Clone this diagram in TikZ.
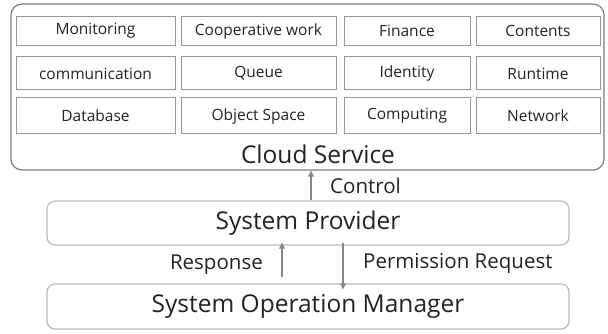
\documentclass[tikz,border=0pt]{standalone}
\usepackage{fontspec}
\setmainfont{Open Sans}
\usetikzlibrary{arrows.meta}
\definecolor{boxgray}{RGB}{150,150,150}
\definecolor{outergray}{RGB}{125,125,125}
\definecolor{lightgray}{RGB}{185,185,185}
\definecolor{arrowgray}{RGB}{135,135,135}
\definecolor{txt}{RGB}{35,35,35}
\tikzset{
  svc/.style={draw=boxgray, line width=1pt, inner sep=0pt, font=\fontsize{15.5}{18}\selectfont, text=txt},
  layer/.style={draw=lightgray, line width=1.2pt, rounded corners=8pt, inner sep=0pt, minimum width=522pt, minimum height=44pt, font=\fontsize{24.5}{28}\selectfont, text=txt},
  flow/.style={draw=arrowgray, line width=1.4pt, -{Triangle[length=6pt,width=5.5pt]}},
  lbl/.style={font=\fontsize{20.5}{24}\selectfont, text=txt, inner sep=0pt}
}
\begin{document}
\begin{tikzpicture}[x=1pt,y=-1pt]
\useasboundingbox (0,0) rectangle (608,334);
\fill[white] (0,0) rectangle (608,334);
% outer cloud box
\node[draw=outergray, line width=1.2pt, rounded corners=11pt, minimum width=593pt, minimum height=166pt, inner sep=0pt] (cloud) at (307.5,87) {};
\node[font=\fontsize{24.5}{28}\selectfont, text=txt, inner sep=0pt] (cloudlbl) at (318,154) {Cloud Service};
% row 1
\node[svc, minimum width=159pt, minimum height=29pt] (mon) at (95.5,31) {Monitoring};
\node[svc, minimum width=155pt, minimum height=29pt] (coop) at (258.5,31) {Cooperative work};
\node[svc, minimum width=126pt, minimum height=29pt] (fin) at (407,31) {Finance};
\node[svc, minimum width=124pt, minimum height=29pt] (cont) at (538,31) {Contents};
% row 2
\node[svc, minimum width=159pt, minimum height=33pt] (comm) at (95.5,73.5) {communication};
\node[svc, minimum width=155pt, minimum height=33pt] (queue) at (258.5,73.5) {Queue};
\node[svc, minimum width=126pt, minimum height=33pt] (ident) at (407,73.5) {Identity};
\node[svc, minimum width=124pt, minimum height=33pt] (runt) at (538,73.5) {Runtime};
% row 3
\node[svc, minimum width=159pt, minimum height=36pt] (db) at (95.5,116) {Database};
\node[svc, minimum width=155pt, minimum height=36pt] (obj) at (258.5,116) {Object Space};
\node[svc, minimum width=126pt, minimum height=36pt] (comp) at (407,116) {Computing};
\node[svc, minimum width=124pt, minimum height=36pt] (net) at (538,116) {Network};
% layers
\node[layer] (sp) at (308,223) {System Provider};
\node[layer, minimum height=45pt] (som) at (308,306.5) {System Operation Manager};
% arrows
\draw[flow] (sp.north -| 311,0) -- (cloud.south -| 311,0);
\node[lbl, anchor=west] (ctrl) at (330,186) {Control};
\draw[flow] (som.north -| 282,0) ++(0,-6) -- ([yshift=3pt]sp.south -| 282,0);
\node[lbl, anchor=east] (resp) at (263,265) {Response};
\draw[flow] ([yshift=3pt]sp.south -| 343,0) -- ([yshift=-6pt]som.north -| 343,0);
\node[lbl, anchor=west] (perm) at (363,263) {Permission Request};
\end{tikzpicture}
\end{document}
